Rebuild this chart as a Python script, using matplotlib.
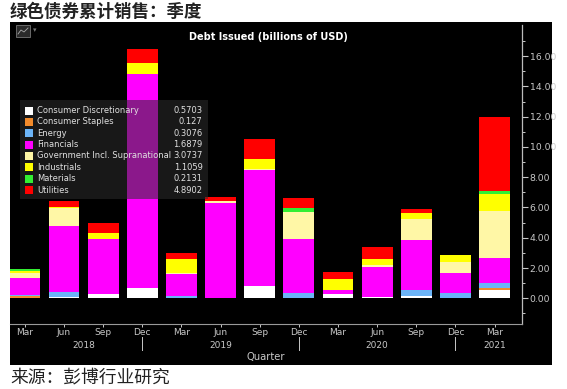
import matplotlib
matplotlib.use('Agg')
from matplotlib import pyplot as plt
from matplotlib.patches import Rectangle
from matplotlib.lines import Line2D
import numpy as np

plt.rcParams['font.family'] = ['DejaVu Sans']

# quarters (quarter-end month)
months = ["Mar", "Jun", "Sep", "Dec", "Mar", "Jun", "Sep", "Dec",
          "Mar", "Jun", "Sep", "Dec", "Mar"]
years = ["2018", "2019", "2020", "2021"]
year_pos = [1.5, 5, 9, 12]
sep_pos = [3, 7, 11]

sectors = ["Consumer Discretionary", "Consumer Staples", "Energy", "Financials",
           "Government Incl. Supranational", "Industrials", "Materials", "Utilities"]
last_vals = ["0.5703", "0.127", "0.3076", "1.6879", "3.0737", "1.1059", "0.2131", "4.8902"]
colors = ['#ffffff', '#f28b2c', '#6cb4f7', '#ff00ff', '#fff7a6', '#ffff00', '#33ee33', '#ff0000']

# billions of USD
consumer_disc = [0, 0.10, 0.26, 0.70, 0, 0, 0.81, 0, 0.26, 0.09, 0.15, 0, 0.5703]
consumer_staples = [0.13, 0, 0, 0, 0, 0, 0, 0, 0, 0, 0, 0, 0.127]
energy = [0.08, 0.33, 0, 0, 0.15, 0, 0, 0.37, 0, 0, 0.38, 0.37, 0.3076]
financials = [1.10, 4.34, 3.63, 14.10, 1.43, 6.30, 7.65, 3.53, 0.26, 2.00, 3.30, 1.28, 1.6879]
government = [0.37, 1.20, 0, 0.05, 0.07, 0.12, 0.07, 1.80, 0, 0.10, 1.39, 0.77, 3.0737]
industrials = [0.13, 0.05, 0.44, 0.73, 0.93, 0, 0.66, 0, 0.73, 0.38, 0.44, 0.42, 1.1059]
materials = [0.11, 0, 0, 0, 0, 0, 0, 0.24, 0, 0, 0, 0, 0.2131]
utilities = [0, 0.40, 0.62, 0.88, 0.44, 0.28, 1.36, 0.66, 0.50, 0.84, 0.22, 0.05, 4.8902]

series = [consumer_disc, consumer_staples, energy, financials,
          government, industrials, materials, utilities]

W, H = 567, 389
fig = plt.figure(figsize=(W / 100, H / 100), dpi=100, facecolor='white')

def fx(px):
    return px / W

def fy(py):
    return (H - py) / H

# black terminal panel
fig.patches.append(Rectangle((fx(10), fy(365)), fx(552) - fx(10), fy(22) - fy(365),
                             transform=fig.transFigure, facecolor='black',
                             edgecolor='none', zorder=-5))

ax = fig.add_axes([fx(10), fy(324), fx(522) - fx(10), fy(25) - fy(324)])
ax.set_facecolor('black')

x = np.arange(len(months))
bottom = np.zeros(len(months))
for vals, c in zip(series, colors):
    ax.bar(x, vals, width=0.79, bottom=bottom, color=c, linewidth=0, zorder=2)
    bottom += np.array(vals)

ax.set_xlim(-0.38, 12.70)
ax.set_ylim(-1.7, 18.06)

grey = '#c8c8c8'
for s in ['top', 'left']:
    ax.spines[s].set_visible(False)
ax.spines['right'].set_color('#bbbbbb')
ax.spines['bottom'].set_color('#999999')
ax.spines['right'].set_linewidth(0.9)
ax.spines['bottom'].set_linewidth(0.8)

ax.yaxis.tick_right()
ax.set_yticks(np.arange(0, 17, 2))
ax.set_yticklabels(["%.2f" % v for v in np.arange(0, 17, 2)])
ax.set_yticks(np.arange(-1, 18, 1), minor=True)
ax.tick_params(axis='y', which='major', colors=grey, labelsize=6.7, length=4, width=0.8, pad=1.5)
ax.tick_params(axis='y', which='minor', colors=grey, length=2.5, width=0.7)

ax.set_xticks(x)
ax.set_xticklabels(months)
ax.tick_params(axis='x', colors=grey, labelsize=6.5, length=2.5, width=0.7, pad=0.5)

# year row and separators
for yr, p in zip(years, year_pos):
    xp = fx(10) + (p + 0.38) / 13.08 * (fx(522) - fx(10))
    fig.text(xp, fy(345), yr, color=grey, fontsize=6.5, ha='center', va='center')
for p in sep_pos:
    xp = fx(10) + (p + 0.38) / 13.08 * (fx(522) - fx(10))
    fig.add_artist(Line2D([xp, xp], [fy(337), fy(350)], color=grey, linewidth=0.7))
fig.text(fx(266), fy(357), "Quarter", color=grey, fontsize=7.2, ha='center', va='center')

# chart title inside the panel
fig.text(fx(268), fy(37), "Debt Issued (billions of USD)", color='white',
         fontsize=7, fontweight='bold', ha='center', va='center')

# small chart icon top-left
fig.add_artist(Rectangle((fx(16), fy(37)), fx(14), fy(25) - fy(37), transform=fig.transFigure,
                         facecolor='#2a2a2a', edgecolor='#777777', linewidth=0.6, zorder=3))
fig.add_artist(Line2D([fx(18), fx(21), fx(24), fx(28)], [fy(34), fy(30), fy(32), fy(28)],
                      color='#aaaaaa', linewidth=0.6, zorder=4))
fig.text(fx(35), fy(30), "\u25be", color='#777777', fontsize=5, ha='center', va='center')

# legend overlay with last values
fig.add_artist(Rectangle((fx(20), fy(199)), fx(208) - fx(20), fy(100) - fy(199),
                         transform=fig.transFigure, facecolor='#2c2c2c', alpha=0.55,
                         edgecolor='none', zorder=5))
for i, (name, val, c) in enumerate(zip(sectors, last_vals, colors)):
    yc = 110.5 + 11.36 * i
    fig.add_artist(Rectangle((fx(25), fy(yc + 4)), fx(8), fy(yc - 4) - fy(yc + 4),
                             transform=fig.transFigure, facecolor=c, edgecolor='none', zorder=6))
    fig.text(fx(37), fy(yc), name, color='#e0e0e0', fontsize=6, ha='left', va='center', zorder=7)
    fig.text(fx(202.5), fy(yc), val, color='#e0e0e0', fontsize=6, ha='right', va='center', zorder=7)

# Chinese title and source
fig.text(fx(10), fy(12), "绿色债券累计销售：季度", fontsize=12.6, fontweight='bold',
         family=['Noto Sans CJK SC', 'DejaVu Sans'], color='#222222', ha='left', va='center')
fig.text(fx(10), fy(377), "来源：彭博行业研究", fontsize=12.8,
         family=['Noto Sans CJK SC', 'DejaVu Sans'], color='#222222', ha='left', va='center')

plt.savefig('out.png', dpi=100, facecolor='white')
plt.close()
